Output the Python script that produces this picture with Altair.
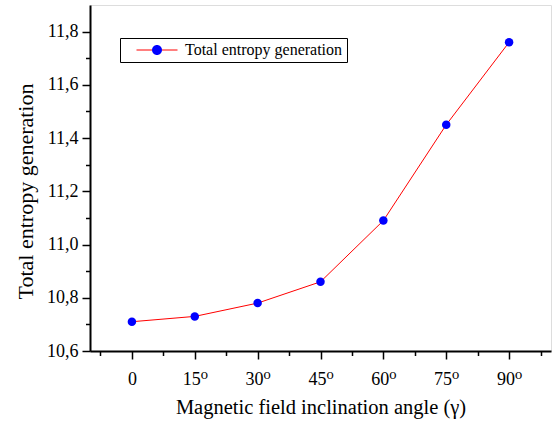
import altair as alt
import pandas as pd

angles = [0, 15, 30, 45, 60, 75, 90]
entropy = [10.71, 10.73, 10.78, 10.86, 11.09, 11.45, 11.76]
series_name = "Total entropy generation"
x_major = [0, 15, 30, 45, 60, 75, 90]
x_minor = [-7.5, 7.5, 22.5, 37.5, 52.5, 67.5, 82.5, 97.5]
y_major = [10.6, 10.8, 11.0, 11.2, 11.4, 11.6, 11.8]
y_minor = [10.7, 10.9, 11.1, 11.3, 11.5, 11.7]

df = pd.DataFrame({
    "angle": angles,
    "entropy": entropy,
    "series": [series_name] * len(angles),
    "series_pt": [series_name] * len(angles),
})

FONT = "Liberation Serif, Times New Roman, DejaVu Serif, serif"
xscale = alt.Scale(domain=[-10, 100], nice=False, zero=False)
yscale = alt.Scale(domain=[10.6, 11.9], nice=False, zero=False)

LINE_SYM = "M-4.1,0H-1M1,0H4.1"
DOT_SYM = "M-1,0A1,1,0,1,1,1,0A1,1,0,1,1,-1,0Z"

common_leg = dict(
    orient="none", legendX=30, legendY=33, padding=4,
    symbolSize=100, symbolOffset=25, labelOffset=20,
    labelFont=FONT, labelFontSize=16, labelColor="black", labelLimit=400,
)

line = alt.Chart(df).mark_line(strokeWidth=1, interpolate="linear").encode(
    x=alt.X("angle:Q", scale=xscale, axis=alt.Axis(
        orient="bottom", values=x_major, tickSize=8, tickWidth=1.5, tickColor="black",
        domainColor="black", domainWidth=2,
        labelExpr="datum.value == 0 ? '0' : datum.value + '\u2070'",
        labelFont=FONT, labelFontSize=18, labelColor="black", labelPadding=11,
        labelBaseline="top", labelFlush=False,
        title="Magnetic field inclination angle (\u03b3)",
        titleFont=FONT, titleFontSize=20.5, titleFontWeight="normal", titleColor="black",
        titleY=62, titleBaseline="alphabetic", grid=False)),
    y=alt.Y("entropy:Q", scale=yscale, axis=alt.Axis(
        orient="left", values=y_major, tickSize=8, tickWidth=1.5, tickColor="black",
        domainColor="black", domainWidth=2,
        labelExpr="replace(format(datum.value, '.1f'), '.', ',')",
        labelFont=FONT, labelFontSize=18, labelColor="black", labelPadding=4,
        labelFlush=False,
        title="Total entropy generation",
        titleFont=FONT, titleFontSize=22, titleFontWeight="normal", titleColor="black",
        titleX=-65, titleY=186, titleAngle=270, titleBaseline="middle", titleAlign="center",
        grid=False)),
    color=alt.Color("series:N", scale=alt.Scale(range=["red"]), legend=alt.Legend(
        title=None, symbolType=LINE_SYM, symbolStrokeWidth=1, strokeColor="black",
        **common_leg)),
)

points = alt.Chart(df).mark_point(filled=True, size=72, opacity=1, shape="circle", strokeWidth=0).encode(
    x=alt.X("angle:Q", scale=xscale, axis=alt.Axis(
        orient="bottom", values=x_minor, tickSize=4.5, tickWidth=1.5, tickColor="black",
        domain=False, labels=False, title=None, grid=False)),
    y=alt.Y("entropy:Q", scale=yscale, axis=alt.Axis(
        orient="left", values=y_minor, tickSize=4.5, tickWidth=1.5, tickColor="black",
        domain=False, labels=False, title=None, grid=False)),
    fill=alt.Fill("series_pt:N", scale=alt.Scale(range=["blue"]), legend=alt.Legend(
        title=None, symbolType=DOT_SYM, symbolStrokeWidth=0, symbolOpacity=1,
        labelExpr="''", **common_leg)),
)

chart = alt.layer(line, points).resolve_axis(
    x="independent", y="independent"
).resolve_legend(color="independent", fill="independent").properties(
    width=461, height=346,
    padding={"left": 90, "top": 5, "right": 1, "bottom": 72},
    autosize=alt.AutoSizeParams(type="none"),
).configure_view(stroke="black", strokeWidth=1.5).configure(background="white")

chart.save("out.html", embed_options={"renderer": "svg", "actions": False})
